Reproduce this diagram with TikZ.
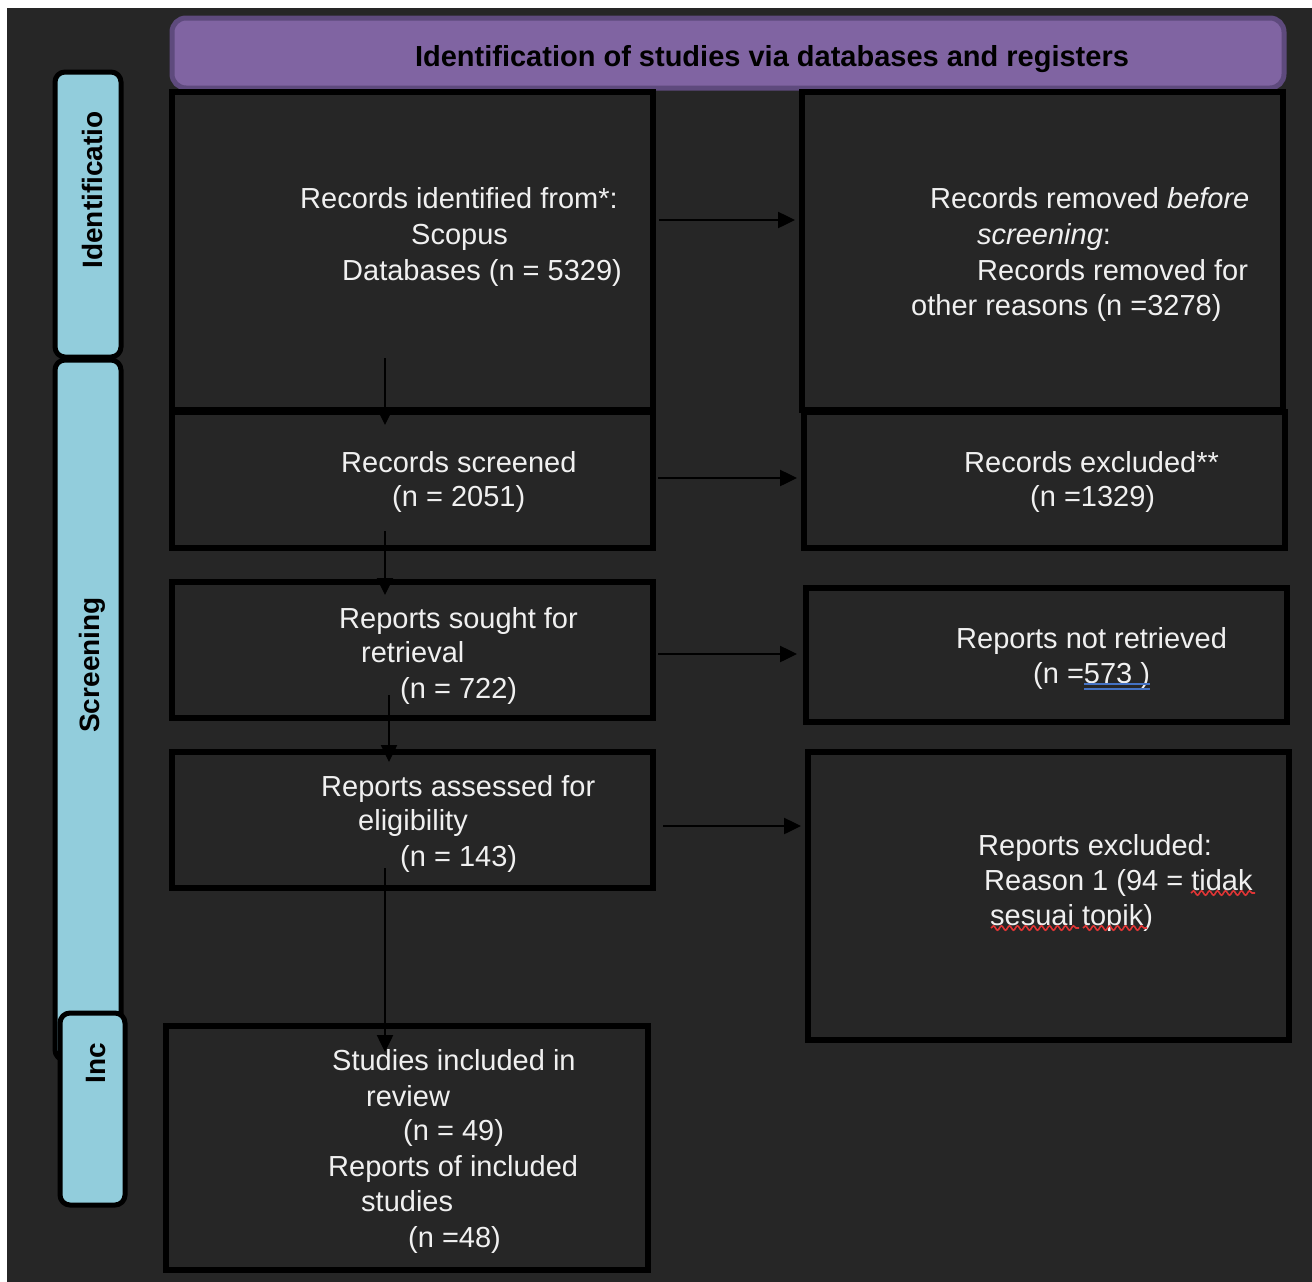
\documentclass[tikz,border=0pt]{standalone}
\usepackage{fontspec}
\setmainfont{Liberation Sans}
\usetikzlibrary{calc,arrows.meta,decorations.pathmorphing}
\definecolor{bgdark}{HTML}{262626}
\definecolor{hdrfill}{HTML}{8064A2}
\definecolor{hdrline}{HTML}{5E4A7D}
\definecolor{tabfill}{HTML}{92CDDC}
\definecolor{txtc}{HTML}{F0F0F0}
\definecolor{spellred}{HTML}{E03535}
\definecolor{linkblue}{HTML}{4472C4}
\tikzset{
  box/.style={draw=black, line width=6pt, rectangle, inner sep=0pt},
  tab/.style={draw=black, fill=tabfill, line width=5pt, rounded corners=10pt, inner sep=0pt},
  tabtxt/.style={rotate=90, text=black, font=\fontsize{28pt}{32pt}\selectfont\bfseries, inner sep=0pt},
  ln/.style={anchor=base west, inner sep=0pt, text=txtc, font=\fontsize{29pt}{35pt}\selectfont},
  arr/.style={draw=black, line width=2.5pt, -{Triangle[length=17pt,width=16pt]}},
  wavy/.style={draw=spellred, line width=1.6pt, decorate, decoration={snake, amplitude=2.2pt, segment length=8pt}},
}
\begin{document}
\begin{tikzpicture}[x=1pt,y=-1pt]
\useasboundingbox (0,0) rectangle (1312,1282);
\fill[white] (0,0) rectangle (1312,1282);
\fill[bgdark] (7,8) rectangle (1312,1282);

% header
\node[draw=hdrline, fill=hdrfill, line width=5pt, rounded corners=14pt, minimum width=1112pt, minimum height=70pt, inner sep=0pt] (hdr) at (728,53) {};
\node[text=black, inner sep=0pt, font=\fontsize{29pt}{33pt}\selectfont\bfseries] (hdrtxt) at (772,59) {Identification of studies via databases and registers};

% side tabs
\node[tab, minimum width=66pt, minimum height=700pt] (tscr) at (88,710) {};
\node[tab, minimum width=66pt, minimum height=285pt] (tid) at (88,214.5) {};
\node[tab, minimum width=65pt, minimum height=192pt] (tinc) at (92.5,1109) {};
\node[tabtxt] (tidtxt) at (92,190) {Identificatio};
\node[tabtxt] (tscrtxt) at (92,665) {Screening};
\node[tabtxt] (tinctxt) at (96,1063) {Inc};

% boxes
\node[box, minimum width=481pt, minimum height=318pt] (B1) at (412.5,251) {};
\node[box, minimum width=481pt, minimum height=318pt] (B2) at (1042.5,251) {};
\node[box, minimum width=481pt, minimum height=136pt] (B3) at (412.5,480) {};
\node[box, minimum width=481pt, minimum height=136pt] (B4) at (1044.5,480) {};
\node[box, minimum width=481pt, minimum height=136pt] (B5) at (412.5,650) {};
\node[box, minimum width=481pt, minimum height=134pt] (B6) at (1046.5,655) {};
\node[box, minimum width=481pt, minimum height=136pt] (B7) at (412.5,820) {};
\node[box, minimum width=481pt, minimum height=288pt] (B8) at (1048.5,896) {};
\node[box, minimum width=482pt, minimum height=244pt] (B9) at (407,1148) {};

% texts B1
\node[ln] (l11) at (300,208) {Records identified from*:};
\node[ln] (l12) at (411,244) {Scopus};
\node[ln] (l13) at (342,280) {Databases (n = 5329)};
% B2
\node[ln] (l21) at (930,208) {Records removed \textit{before}};
\node[ln] (l22) at (977,244) {\textit{screening}:};
\node[ln] (l23) at (977,280) {Records removed for};
\node[ln] (l24) at (911,315) {other reasons (n =3278)};
% B3
\node[ln] (l31) at (341,472) {Records screened};
\node[ln] (l32) at (392,506) {(n = 2051)};
% B4
\node[ln] (l41) at (964,472) {Records excluded**};
\node[ln] (l42) at (1030,506) {(n =1329)};
% B5
\node[ln] (l51) at (339,628) {Reports sought for};
\node[ln] (l52) at (361,662) {retrieval};
\node[ln] (l53) at (400,698) {(n = 722)};
% B6
\node[ln] (l61) at (956,648) {Reports not retrieved};
\node[ln] (l62) at (1033,683) {(n =573 )};
% B7
\node[ln] (l71) at (321,796) {Reports assessed for};
\node[ln] (l72) at (358,830) {eligibility};
\node[ln] (l73) at (400,866) {(n = 143)};
% B8
\node[ln] (l81) at (978,855) {Reports excluded:};
\node[ln] (l82) at (984,890) {Reason 1 (94 = tidak};
\node[ln] (l83) at (990,925) {sesuai topik)};
% B9
\node[ln] (l91) at (332,1070) {Studies included in};
\node[ln] (l92) at (366,1106) {review};
\node[ln] (l93) at (403,1140) {(n = 49)};
\node[ln] (l94) at (328,1176) {Reports of included};
\node[ln] (l95) at (361,1211) {studies};
\node[ln] (l96) at (408,1247) {(n =48)};

% underlines
\draw[linkblue, line width=1.5pt] ($(l62.base west)+(51,1)$) -- ++(66,0);
\draw[linkblue, line width=1.5pt] ($(l62.base west)+(51,6)$) -- ++(66,0);
\draw[wavy] ($(l82.base west)+(207,3)$) -- ++(64,0);
\draw[wavy] ($(l83.base west)+(1,3)$) -- ++(88,0);
\draw[wavy] ($(l83.base west)+(93,3)$) -- ++(64,0);

% horizontal arrows
\draw[arr] ($(B1.east)+(3,-31)$) -- ($(B2.west)+(-4,-31)$);
\draw[arr] ($(B3.east)+(2,-2)$) -- ($(B4.west)+(-4,-2)$);
\draw[arr] ($(B5.east)+(2,4)$) -- ($(B6.west)+(-6,-1)$);
\draw[arr] ($(B7.east)+(7,6)$) -- ($(B8.west)+(-4,-70)$);

% vertical arrows
\draw[arr] ($(B1.south west)+(216,-55)$) -- ($(B3.north west)+(216,16)$);
\draw[arr] ($(B3.south west)+(216,-20)$) -- ($(B5.north west)+(216,16)$);
\draw[arr] ($(B5.south west)+(220,-26)$) -- ($(B7.north west)+(220,13)$);
\draw[arr] ($(B7.south west)+(216,-23)$) -- ($(B9.north west)+(222,29)$);
\end{tikzpicture}
\end{document}
